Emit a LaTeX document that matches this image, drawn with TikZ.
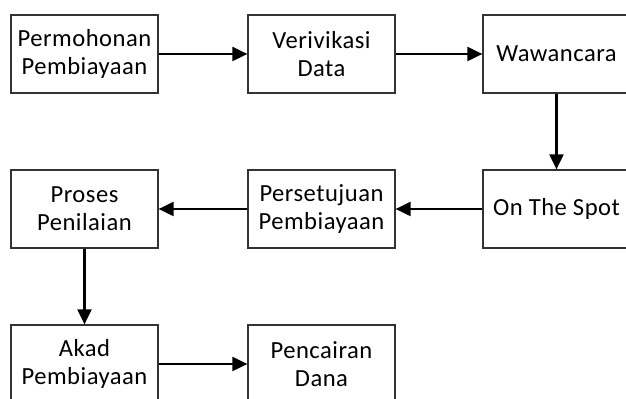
\documentclass[tikz,border=0pt]{standalone}
\usepackage{fontspec}
\setmainfont[LetterSpace=2]{Carlito}
\usetikzlibrary{arrows.meta, positioning}

\begin{document}
\begin{tikzpicture}[
    stage/.style={rectangle, draw=black!80, line width=0.7pt, minimum width=2.94cm, minimum height=1.56cm, align=center, text centered, font=\fontsize{14}{16}\selectfont},
    flow/.style={-{Triangle[length=0.3cm, width=0.28cm]}, line width=1.2pt}
]
\useasboundingbox (0,0) rectangle (12.52,-7.98);
% First row
\node[stage] (permohonan) at (1.69,-1.08) {Permohonan\\Pembiayaan};
\node[stage] (verifikasi) at (6.43,-1.08) {Verivikasi\\Data};
\node[stage] (wawancara) at (11.13,-1.08) {Wawancara};
% Second row
\node[stage] (onthespot) at (11.13,-4.18) {On The Spot};
\node[stage] (persetujuan) at (6.43,-4.18) {Persetujuan\\Pembiayaan};
\node[stage] (penilaian) at (1.69,-4.18) {Proses\\Penilaian};
% Third row
\node[stage] (akad) at (1.69,-7.28) {Akad\\Pembiayaan};
\node[stage] (pencairan) at (6.43,-7.28) {Pencairan\\Dana};
% Flow
\draw[flow] (permohonan) -- (verifikasi);
\draw[flow] (verifikasi) -- (wawancara);
\draw[flow] (wawancara) -- (onthespot);
\draw[flow] (onthespot) -- (persetujuan);
\draw[flow] (persetujuan) -- (penilaian);
\draw[flow] (penilaian) -- (akad);
\draw[flow] (akad) -- (pencairan);
\end{tikzpicture}
\end{document}
